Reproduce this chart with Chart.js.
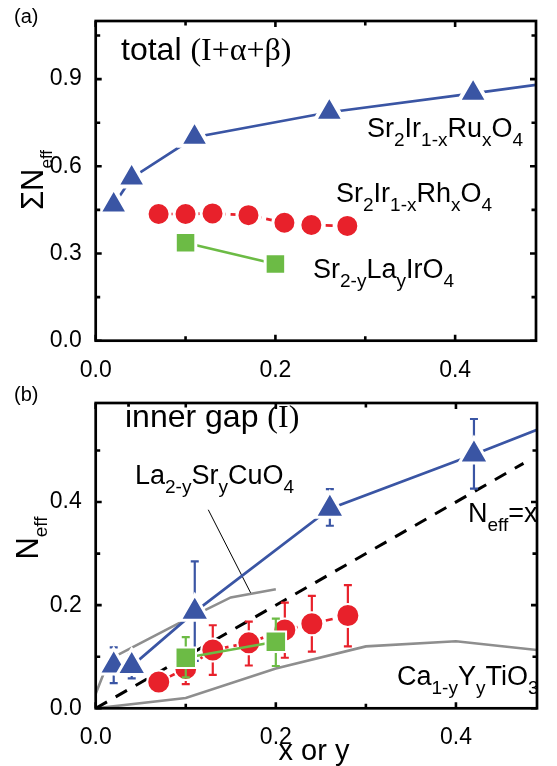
<!DOCTYPE html>
<html>
<head>
<meta charset="utf-8">
<script src="https://cdn.jsdelivr.net/npm/chart.js@4.4.0/dist/chart.umd.min.js"></script>
<style>
  html, body { margin: 0; padding: 0; background: #fff; }
  #wrap { position: relative; width: 557px; height: 766px; }
  canvas { position: absolute; left: 0; }
  #chartA { top: 0; }
  #chartB { top: 383px; }
</style>
</head>
<body>
<div id="wrap">
  <canvas id="chartA" width="557" height="383"></canvas>
  <canvas id="chartB" width="557" height="383"></canvas>
</div>
<script>
// x positions (doping x or y)
const ruX = [0.02, 0.04, 0.11, 0.26, 0.42];
const rhX = [0.07, 0.10, 0.13, 0.17, 0.21, 0.24, 0.28];
const laX = [0.10, 0.20];
const edgeX = 0.49;

// (a) total spectral weight
const ruTotal = [0.467, 0.560, 0.700, 0.786, 0.851];
const ruTotalEdge = 0.880;
const rhTotal = [0.436, 0.436, 0.438, 0.432, 0.406, 0.398, 0.395];
const laTotal = [0.337, 0.264];

// (b) inner gap weight with error bars
const ruInner = [0.083, 0.082, 0.187, 0.387, 0.492];
const ruInnerLo = [0.049, 0.058, 0.092, 0.354, 0.426];
const ruInnerHi = [0.118, 0.105, 0.285, 0.425, 0.561];
const ruInnerEdge = 0.540;
const rhInner = [0.051, 0.077, 0.113, 0.127, 0.152, 0.164, 0.180];
const rhInnerLo = [null, 0.047, 0.065, 0.083, 0.098, 0.110, 0.120];
const rhInnerHi = [null, 0.107, 0.161, 0.168, 0.205, 0.218, 0.239];
const laInner = [0.098, 0.129];
const laInnerLo = [0.060, 0.082];
const laInnerHi = [0.138, 0.174];

// reference curves in (b)
const lscoX = [0, 0.015, 0.10, 0.15, 0.20];
const lscoN = [0.028, 0.095, 0.172, 0.215, 0.231];
const cytoX = [0, 0.10, 0.20, 0.30, 0.40, 0.49];
const cytoN = [0, 0.020, 0.077, 0.120, 0.130, 0.113];
const diagX = [0, 0.475];
const diagN = [0, 0.475];
const leaderX = [0.125, 0.172];
const leaderN = [0.385, 0.224];

// ticks
const xLabels = [0, 0.2, 0.4];
const xMinor = [0, 0.1, 0.2, 0.3, 0.4];
const yLabelsA = [0, 0.3, 0.6, 0.9];
const yMinorA = [0, 0.15, 0.3, 0.45, 0.6, 0.75, 0.9, 1.05];
const yLabelsB = [0, 0.2, 0.4];
const yMinorB = [0, 0.1, 0.2, 0.3, 0.4, 0.5];

const FONT = "'Liberation Sans', Arial, Helvetica, sans-serif";
const SERIF = "'Liberation Serif', 'Times New Roman', serif";
const BLUE = '#3a55a4', RED = '#e8212b', GREEN = '#6cbb45', GRAY = '#8e8e8e';

const pts = (xs, ys) => xs.map((x, i) => ({ x: x, y: ys[i] }));

// text with _{sub} and ~{serif} pieces
function parseRich(str) {
    return str.split(/(_\{[^}]*\}|~\{[^}]*\})/).filter(s => s).map(s => {
        if (s.startsWith('_{')) return { t: s.slice(2, -1), kind: 'sub' };
        if (s.startsWith('~{')) return { t: s.slice(2, -1), kind: 'serif' };
        return { t: s, kind: 'main' };
    });
}

function drawRich(ctx, str, x, y, o) {
    const parts = parseRich(str);
    const fontOf = p => p.kind === 'sub' ? `${o.sub}px ${FONT}` :
        p.kind === 'serif' ? `${o.size}px ${SERIF}` : `${o.size}px ${FONT}`;
    let w = 0;
    parts.forEach(p => { ctx.font = fontOf(p); w += ctx.measureText(p.t).width; });
    let cx = o.center ? x - w / 2 : x;
    ctx.textAlign = 'left';
    ctx.textBaseline = 'alphabetic';
    ctx.fillStyle = '#000';
    parts.forEach(p => {
        ctx.font = fontOf(p);
        ctx.fillText(p.t, cx, p.kind === 'sub' ? y + o.dy : y);
        cx += ctx.measureText(p.t).width;
    });
}

const framePlugin = {
    id: 'frame',
    afterDatasetsDraw(chart, args, opts) {
        const { ctx, chartArea: a, scales } = chart;
        ctx.save();
        ctx.strokeStyle = '#000';
        ctx.lineWidth = 2.6;
        ctx.lineCap = 'butt';
        opts.xTicks.forEach(v => {
            const px = scales.x.getPixelForValue(v);
            const len = opts.xMajor.includes(v) ? 6 : 4.5;
            ctx.beginPath();
            ctx.moveTo(px, a.bottom); ctx.lineTo(px, a.bottom - len);
            ctx.moveTo(px, a.top); ctx.lineTo(px, a.top + len);
            ctx.stroke();
        });
        opts.yTicks.forEach(v => {
            const py = scales.y.getPixelForValue(v);
            const len = opts.yMajor.includes(v) ? 6 : 4.5;
            ctx.beginPath();
            ctx.moveTo(a.left, py); ctx.lineTo(a.left + len, py);
            ctx.moveTo(a.right, py); ctx.lineTo(a.right - len, py);
            ctx.stroke();
        });
        ctx.lineWidth = 2.7;
        ctx.strokeRect(a.left, a.top, a.right - a.left, a.bottom - a.top);
        ctx.restore();
    },
    afterDraw(chart, args, opts) {
        const ctx = chart.ctx;
        ctx.save();
        opts.texts.forEach(t => {
            if (t.rotate) {
                ctx.save();
                ctx.translate(t.x, t.y);
                ctx.rotate(-Math.PI / 2);
                drawRich(ctx, t.s, 0, 0, Object.assign({ center: true }, t));
                ctx.restore();
            } else {
                drawRich(ctx, t.s, t.x, t.y, t);
            }
        });
        ctx.restore();
    }
};

const errPlugin = {
    id: 'errbars',
    beforeDatasetDraw(chart, args, opts) {
        const bars = (opts.list || []).filter(b => b.ds === args.index);
        if (!bars.length) return;
        const { ctx, chartArea: a, scales } = chart;
        ctx.save();
        ctx.beginPath();
        ctx.rect(a.left, a.top, a.right - a.left, a.bottom - a.top);
        ctx.clip();
        bars.forEach(b => {
            ctx.strokeStyle = b.color;
            ctx.lineWidth = 2.2;
            b.x.forEach((xv, i) => {
                if (b.lo[i] == null) return;
                const px = scales.x.getPixelForValue(xv);
                const lo = scales.y.getPixelForValue(b.lo[i]);
                const hi = scales.y.getPixelForValue(b.hi[i]);
                ctx.beginPath();
                ctx.moveTo(px, lo); ctx.lineTo(px, hi);
                ctx.moveTo(px - 4, lo); ctx.lineTo(px + 4, lo);
                ctx.moveTo(px - 4, hi); ctx.lineTo(px + 4, hi);
                ctx.stroke();
            });
        });
        ctx.restore();
    }
};

function lineSet(data, color, width, dash) {
    return { data: data, showLine: true, borderColor: color, borderWidth: width,
             borderDash: dash || [], pointRadius: 0, fill: false, tension: 0 };
}

function markSet(data, color, style, radius, border) {
    return { data: data, showLine: false, pointStyle: style, pointRadius: radius,
             backgroundColor: color, borderColor: '#fff', borderWidth: border };
}

function scaleSet(yMax, xHeight, yLabels) {
    return {
        x: {
            type: 'linear', min: 0, max: edgeX,
            grid: { display: false }, border: { display: false },
            afterBuildTicks: s => { s.ticks = xLabels.map(v => ({ value: v })); },
            afterFit: s => { s.height = xHeight; },
            ticks: { font: { family: FONT, size: 23 }, color: '#000', padding: 8,
                     maxRotation: 0, autoSkip: false, callback: v => Number(v).toFixed(1) }
        },
        y: {
            type: 'linear', min: 0, max: yMax,
            grid: { display: false }, border: { display: false },
            afterBuildTicks: s => { s.ticks = yLabels.map(v => ({ value: v })); },
            afterFit: s => { s.width = 95.7; },
            ticks: { font: { family: FONT, size: 23 }, color: '#000', padding: 6,
                     autoSkip: false, callback: v => Number(v).toFixed(1) }
        }
    };
}

function order(sets) {
    sets.forEach((d, i) => { d.order = -i; });
    return sets;
}

const setsA = order([
    lineSet(pts(ruX.concat([edgeX]), ruTotal.concat([ruTotalEdge])), BLUE, 2.7),
    markSet(pts(ruX, ruTotal), BLUE, 'triangle', 17, 4),
    lineSet(pts(rhX, rhTotal), RED, 2.7, [7, 5]),
    markSet(pts(rhX, rhTotal), RED, 'circle', 11.5, 3),
    lineSet(pts(laX, laTotal), GREEN, 2.6),
    markSet(pts(laX, laTotal), GREEN, 'rect', 14.5, 3)
]);

new Chart(document.getElementById('chartA'), {
    type: 'scatter',
    data: { datasets: setsA },
    options: {
        responsive: false, animation: false, events: [],
        layout: { padding: { top: 20.7, right: 2, left: 0, bottom: 0 } },
        scales: scaleSet(1.1, 42.3, yLabelsA),
        plugins: {
            legend: { display: false }, tooltip: { enabled: false },
            frame: {
                xTicks: xMinor, xMajor: xLabels, yTicks: yMinorA, yMajor: yLabelsA,
                texts: [
                    { s: '(a)', x: 14, y: 23, size: 20 },
                    { s: 'total ~{(I+α+β)}', x: 121, y: 60, size: 32 },
                    { s: 'Sr_{2}Ir_{1-x}Ru_{x}O_{4}', x: 367, y: 137, size: 27, sub: 19, dy: 9 },
                    { s: 'Sr_{2}Ir_{1-x}Rh_{x}O_{4}', x: 336, y: 202, size: 27, sub: 19, dy: 9 },
                    { s: 'Sr_{2-y}La_{y}IrO_{4}', x: 313, y: 278, size: 27, sub: 19, dy: 9 },
                    { s: 'ΣN_{eff}', x: 43, y: 180, size: 31, sub: 17, dy: 9, rotate: true }
                ]
            }
        }
    },
    plugins: [framePlugin, errPlugin]
});

const setsB = order([
    lineSet(pts(cytoX, cytoN), GRAY, 2.6),
    lineSet(pts(lscoX, lscoN), GRAY, 2.6),
    lineSet(pts(leaderX, leaderN), '#000', 1),
    lineSet(pts(diagX, diagN), '#000', 3, [13, 10]),
    lineSet(pts(rhX, rhInner), RED, 2.7, [7, 5]),
    markSet(pts(rhX, rhInner), RED, 'circle', 11.5, 2),
    lineSet(pts(ruX.concat([edgeX]), ruInner.concat([ruInnerEdge])), BLUE, 2.7),
    markSet(pts(ruX, ruInner), BLUE, 'triangle', 17, 3),
    lineSet(pts(laX, laInner), GREEN, 2.6),
    markSet(pts(laX, laInner), GREEN, 'rect', 14.5, 2)
]);

new Chart(document.getElementById('chartB'), {
    type: 'scatter',
    data: { datasets: setsB },
    options: {
        responsive: false, animation: false, events: [],
        layout: { padding: { top: 4.7, right: 2, left: 0, bottom: 0 } },
        scales: scaleSet(0.592, 57.7, yLabelsB),
        plugins: {
            legend: { display: false }, tooltip: { enabled: false },
            errbars: {
                list: [
                    { ds: 5, x: rhX, lo: rhInnerLo, hi: rhInnerHi, color: RED },
                    { ds: 7, x: ruX, lo: ruInnerLo, hi: ruInnerHi, color: BLUE },
                    { ds: 9, x: laX, lo: laInnerLo, hi: laInnerHi, color: GREEN }
                ]
            },
            frame: {
                xTicks: xMinor, xMajor: xLabels, yTicks: yMinorB, yMajor: yLabelsB,
                texts: [
                    { s: '(b)', x: 14, y: 17.7, size: 20 },
                    { s: 'inner gap ~{(I)}', x: 125, y: 44.3, size: 32 },
                    { s: 'La_{2-y}Sr_{y}CuO_{4}', x: 135, y: 101.3, size: 27, sub: 19, dy: 9 },
                    { s: 'N_{eff}=x', x: 468, y: 138.7, size: 27, sub: 19, dy: 9 },
                    { s: 'Ca_{1-y}Y_{y}TiO_{3}', x: 397, y: 302, size: 27, sub: 19, dy: 9 },
                    { s: 'x or y', x: 314, y: 377, size: 29, center: true },
                    { s: 'N_{eff}', x: 38, y: 155, size: 31, sub: 19, dy: 9, rotate: true }
                ]
            }
        }
    },
    plugins: [framePlugin, errPlugin]
});
</script>
</body>
</html>
